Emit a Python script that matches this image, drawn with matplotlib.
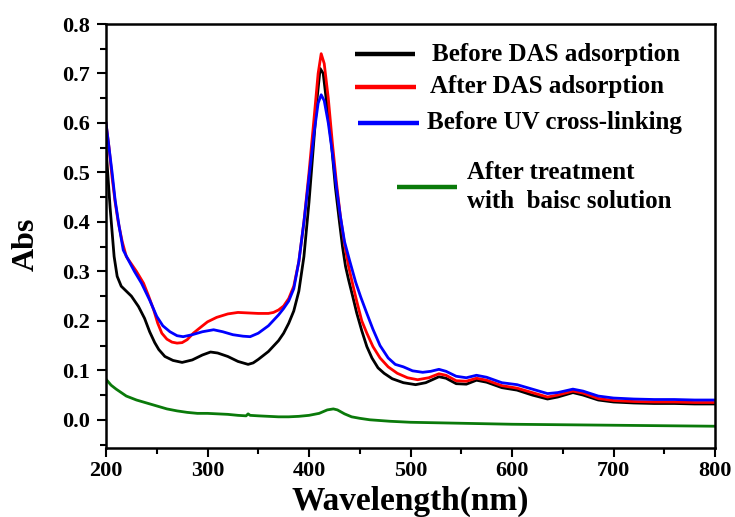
import numpy as np
import matplotlib
matplotlib.use("Agg")
import matplotlib.pyplot as plt
from matplotlib.ticker import MultipleLocator

plt.rcParams['font.family'] = ['Liberation Serif', 'DejaVu Serif']
plt.rcParams['font.weight'] = 'bold'

# wavelength (nm) and absorbance
wl_black = [200, 202, 204, 206, 208, 211, 215, 220, 225, 232, 238, 243, 248, 252, 258, 266, 275, 285, 295, 303,
            310, 320, 330, 340, 345, 350, 360, 370, 375, 380, 385, 390, 395, 400, 405, 408, 411, 414, 418, 422,
            426, 430, 433, 436, 439, 443, 447, 452, 457, 462, 468, 474, 482, 493, 505, 515, 528, 535, 545, 555,
            565, 575, 590, 605, 620, 635, 645, 660, 670, 685, 700, 720, 740, 760, 780, 800]
abs_black = [0.55, 0.49, 0.43, 0.38, 0.33, 0.29, 0.27, 0.26, 0.25, 0.229, 0.205, 0.178, 0.156, 0.142, 0.128,
             0.12, 0.116, 0.121, 0.131, 0.137, 0.135, 0.128, 0.118, 0.112, 0.115, 0.122, 0.138, 0.16, 0.175,
             0.195, 0.22, 0.26, 0.33, 0.44, 0.57, 0.65, 0.71, 0.70, 0.63, 0.56, 0.47, 0.40, 0.35, 0.31, 0.283,
             0.25, 0.216, 0.18, 0.148, 0.125, 0.105, 0.094, 0.083, 0.075, 0.071, 0.075, 0.087, 0.084, 0.073,
             0.072, 0.08, 0.076, 0.065, 0.06, 0.05, 0.042, 0.046, 0.055, 0.05, 0.04, 0.036, 0.034, 0.033, 0.033,
             0.032, 0.032]

wl_red = [200, 203, 206, 209, 212, 216, 220, 225, 230, 237, 242, 247, 251, 255, 260, 265, 270, 275, 280, 286,
          292, 300, 309, 320, 330, 340, 350, 360, 365, 370, 375, 380, 385, 390, 395, 400, 405, 409, 412, 415,
          419, 423, 427, 431, 435, 439, 442, 447, 452, 457, 463, 470, 478, 487, 497, 507, 518, 528, 535, 545,
          555, 565, 575, 590, 605, 620, 635, 645, 660, 670, 685, 700, 720, 740, 760, 780, 800]
abs_red = [0.60, 0.55, 0.49, 0.44, 0.40, 0.36, 0.33, 0.315, 0.30, 0.276, 0.25, 0.222, 0.195, 0.175, 0.163,
           0.157, 0.155, 0.156, 0.162, 0.175, 0.185, 0.198, 0.207, 0.214, 0.217, 0.216, 0.215, 0.215, 0.217,
           0.222, 0.23, 0.245, 0.27, 0.32, 0.40, 0.50, 0.61, 0.70, 0.74, 0.72, 0.65, 0.56, 0.48, 0.41, 0.355,
           0.31, 0.283, 0.24, 0.20, 0.175, 0.148, 0.125, 0.107, 0.094, 0.085, 0.081, 0.085, 0.093, 0.09, 0.079,
           0.078, 0.084, 0.08, 0.069, 0.064, 0.055, 0.046, 0.05, 0.058, 0.054, 0.043, 0.039, 0.037, 0.036,
           0.036, 0.035, 0.035]

wl_blue = [200, 203, 206, 209, 213, 217, 222, 228, 235, 243, 250, 256, 263, 270, 276, 285, 295, 306, 315, 325,
           335, 342, 350, 360, 370, 375, 380, 385, 390, 395, 400, 405, 409, 412, 415, 419, 423, 427, 431, 435,
           440, 446, 451, 457, 463, 470, 478, 485, 493, 502, 512, 520, 528, 535, 545, 555, 565, 575, 590, 605,
           620, 635, 645, 660, 670, 685, 700, 720, 740, 760, 780, 800]
abs_blue = [0.60, 0.55, 0.50, 0.444, 0.39, 0.343, 0.323, 0.30, 0.276, 0.242, 0.209, 0.19, 0.178, 0.17, 0.168,
            0.172, 0.178, 0.182, 0.178, 0.172, 0.169, 0.168, 0.175, 0.19, 0.212, 0.225, 0.24, 0.265, 0.32, 0.40,
            0.49, 0.58, 0.64, 0.657, 0.645, 0.60, 0.54, 0.47, 0.41, 0.36, 0.322, 0.278, 0.248, 0.215, 0.183, 0.15,
            0.125, 0.112, 0.107, 0.099, 0.096, 0.098, 0.102, 0.098, 0.088, 0.085, 0.09, 0.086, 0.075, 0.071,
            0.062, 0.053, 0.055, 0.062, 0.058, 0.048, 0.044, 0.042, 0.041, 0.041, 0.04, 0.04]

wl_green = [200, 205, 210, 215, 220, 230, 240, 250, 260, 270, 280, 290, 300, 310, 320, 330, 338, 340, 342, 350,
            360, 370, 380, 390, 400, 410, 418, 424, 428, 435, 442, 450, 460, 480, 500, 550, 600, 650, 700, 750, 800]
abs_green = [0.082, 0.07, 0.062, 0.055, 0.048, 0.040, 0.034, 0.028, 0.022, 0.018, 0.015, 0.013, 0.013, 0.012,
             0.011, 0.009, 0.008, 0.012, 0.009, 0.008, 0.007, 0.006, 0.006, 0.007, 0.009, 0.013, 0.02, 0.022, 0.02,
             0.012, 0.006, 0.003, 0.0, -0.003, -0.005, -0.007, -0.009, -0.01, -0.011, -0.012, -0.013]

labels = ['Before DAS adsorption', 'After DAS adsorption', 'Before UV cross-linking',
          'After treatment\nwith  baisc solution']
colors = ['black', '#ff0000', '#0000ff', '#0a7a0a']

fig = plt.figure(figsize=(7.35, 5.17), dpi=100)
ax = fig.add_axes([106/735, 1-448/517, 609/735, 424/517])

ax.plot(wl_black, abs_black, color=colors[0], lw=2)
ax.plot(wl_red, abs_red, color=colors[1], lw=2)
ax.plot(wl_blue, abs_blue, color=colors[2], lw=2)
ax.plot(wl_green, abs_green, color=colors[3], lw=2)

ax.set_xlim(200, 800)
ax.set_ylim(-0.057, 0.8)
ax.xaxis.set_major_locator(MultipleLocator(100))
ax.xaxis.set_minor_locator(MultipleLocator(50))
ax.yaxis.set_major_locator(MultipleLocator(0.1))
ax.yaxis.set_minor_locator(MultipleLocator(0.05))
ax.yaxis.set_major_formatter(plt.FuncFormatter(lambda v, p: '%.1f' % v))
ax.tick_params(which='major', direction='out', length=6.5, width=1.5, labelsize=16)
ax.tick_params(axis='y', which='major', pad=5)
ax.tick_params(axis='x', which='major', pad=3)
ax.tick_params(which='minor', direction='out', length=4.3, width=1.5)
for s in ax.spines.values():
    s.set_linewidth(1.8)

ax.set_xlabel('Wavelength(nm)', fontsize=24, fontweight='bold')
ax.xaxis.set_label_coords(0.5, -0.088)
ax.set_ylabel('Abs', fontsize=23, fontweight='bold')
ax.yaxis.set_label_coords(-0.107, 0.481)

# hand placed legend
def ax_xy(px, py):
    return (px - 106) / 609, (448 - py) / 424

leg = [((355, 415), 54, 432), ((355, 416), 87, 430), ((358, 419), 123, 427), ((397, 457), 187, 467)]
for i, ((x0, x1), py, tx) in enumerate(leg):
    a, b = ax_xy(x0, py)
    c, _ = ax_xy(x1, py)
    ax.plot([a, c], [b, b], color=colors[i], lw=3.2, transform=ax.transAxes, solid_capstyle='butt')
    t, _ = ax_xy(tx, py)
    ax.text(t, b, labels[i], transform=ax.transAxes, fontsize=18, fontweight='bold',
            va='center', ha='left', linespacing=1.3)

fig.savefig('out.png', dpi=100)
